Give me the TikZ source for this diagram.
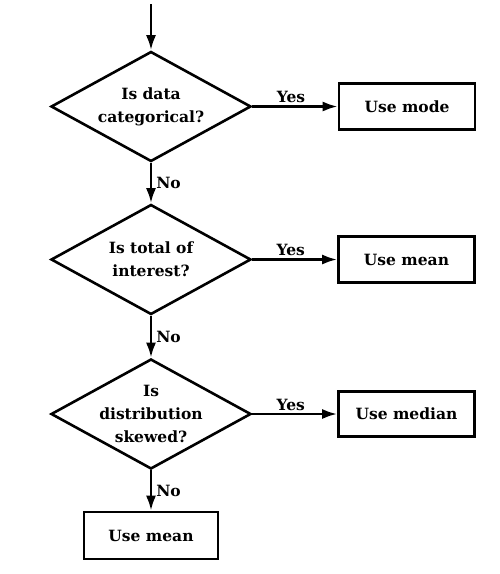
\documentclass[tikz,border=0pt]{standalone}
\usepackage{fontspec}
\setmainfont{DejaVu Serif}
\usetikzlibrary{shapes.geometric,arrows.meta}
\begin{document}
\begin{tikzpicture}[x=1pt,y=-1pt,
  every node/.style={font=\fontsize{15.5}{23}\selectfont\bfseries},
  decision/.style={shape=diamond,draw,line width=2.6pt,minimum width=200pt,minimum height=110pt,inner sep=0pt},
  qtext/.style={align=center,inner sep=0pt},
  outcome/.style={draw,line width=2.6pt,minimum width=136pt,minimum height=46pt,inner sep=0pt},
  flow/.style={line width=2.6pt,-{Latex[length=15pt,width=10pt]}},
  lbl/.style={inner sep=2pt}]
\useasboundingbox (0,0) rectangle (500,574);
\coordinate (start) at (151,4);
\node[decision] (d1) at (151,106.5) {};
\node[qtext] (t1) at (d1.center) {Is data\\categorical?};
\node[decision] (d2) at (151,259.5) {};
\node[qtext] (t2) at (d2.center) {Is total of\\interest?};
\node[decision] (d3) at (151,414) {};
\node[qtext] (t3) at (d3.center) {Is\\distribution\\skewed?};
\node[outcome] (mode) at (407,106.5) {Use mode};
\node[outcome] (mean1) at (406.5,259.5) {Use mean};
\node[outcome,minimum height=45pt] (median) at (406.5,414) {Use median};
\node[outcome,minimum width=134pt,minimum height=47pt] (mean2) at (151,535.5) {Use mean};
\draw[flow] (start) -- (d1.north);
\draw[flow] (d1.east) -- node[lbl,above,xshift=-4pt] {Yes} (mode.west);
\draw[flow] (d2.east) -- node[lbl,above,xshift=-4pt] {Yes} (mean1.west);
\draw[flow] (d3.east) -- node[lbl,above,xshift=-4pt] {Yes} (median.west);
\draw[flow] (d1.south) -- node[lbl,right,inner sep=1pt,xshift=3pt] {No} (d2.north);
\draw[flow] (d2.south) -- node[lbl,right,inner sep=1pt,xshift=3pt] {No} (d3.north);
\draw[flow] (d3.south) -- node[lbl,right,inner sep=1pt,xshift=3pt] {No} (mean2.north);
\end{tikzpicture}
\end{document}
